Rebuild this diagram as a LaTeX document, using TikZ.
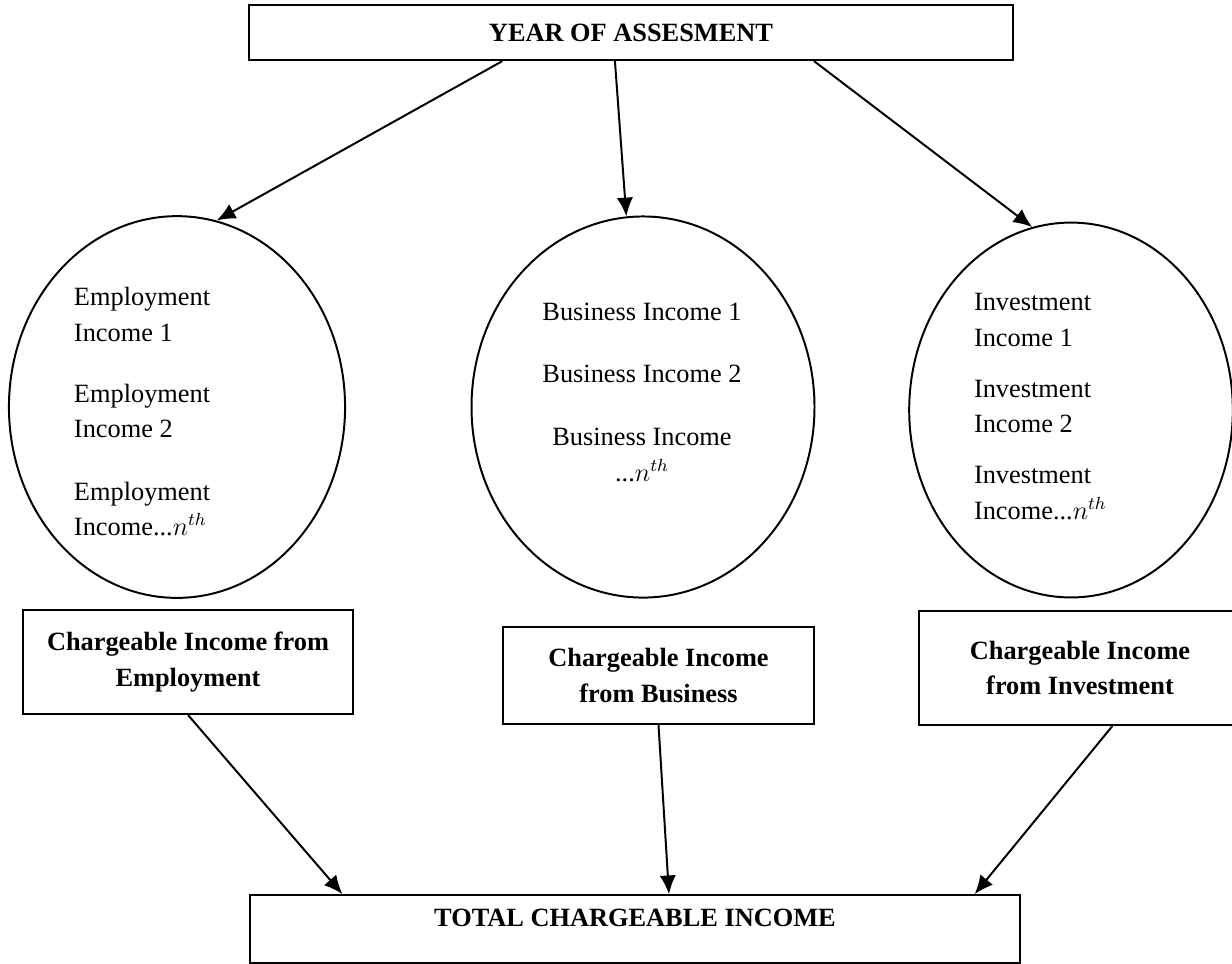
\documentclass[tikz,border=0pt]{standalone}
\usepackage{fontspec}
\setmainfont{Liberation Serif}
\usepackage{tikz}
\usetikzlibrary{calc, shapes.geometric}
\usetikzlibrary{arrows.meta}
\tikzset{>={Latex[width=2.6mm,length=3mm]}}
\tikzset{
  box/.style={draw=black, line width=1pt, inner sep=0pt, align=center,
    font=\fontsize{12pt}{16pt}\selectfont\bfseries},
  pool/.style={draw=black, line width=0.9pt, ellipse, inner sep=0pt},
  item/.style={inner sep=0pt, font=\fontsize{12pt}{14pt}\selectfont}
}

\begin{document}
\begin{tikzpicture}[x=0.016cm, y=-0.016cm, line width=0.9pt]
    \useasboundingbox (0,0) rectangle (1232,963);

    \node[box, minimum width=12.22cm, minimum height=0.88cm] (year) at (631,32.5) {YEAR OF ASSESMENT};

    \node[pool, minimum width=5.38cm, minimum height=6.11cm] (emp) at (177,407) {};
    \node[pool, minimum width=5.49cm, minimum height=6.10cm] (bus) at (643,407) {};
    \node[pool, minimum width=5.18cm, minimum height=6.00cm] (inv) at (1071,410) {};

    \node[item, anchor=base west] (emp-1a) at (73,305) {Employment};
    \node[item, anchor=base west] (emp-1b) at (73,341) {Income 1};
    \node[item, anchor=base west] (emp-2a) at (73,402) {Employment};
    \node[item, anchor=base west] (emp-2b) at (73,437) {Income 2};
    \node[item, anchor=base west] (emp-na) at (73,500) {Employment};
    \node[item, anchor=base west] (emp-nb) at (73,535) {Income...$n^{th}$};

    \node[item, anchor=base] (bus-1) at (642,320) {Business Income 1};
    \node[item, anchor=base] (bus-2) at (642,382) {Business Income 2};
    \node[item, anchor=base] (bus-na) at (642,445) {Business Income};
    \node[item, anchor=base] (bus-nb) at (642,481) {...$n^{th}$};

    \node[item, anchor=base west] (inv-1a) at (973,310) {Investment};
    \node[item, anchor=base west] (inv-1b) at (973,346) {Income 1};
    \node[item, anchor=base west] (inv-2a) at (973,397) {Investment};
    \node[item, anchor=base west] (inv-2b) at (973,432) {Income 2};
    \node[item, anchor=base west] (inv-na) at (973,483) {Investment};
    \node[item, anchor=base west] (inv-nb) at (973,519) {Income...$n^{th}$};

    \node[box, minimum width=5.28cm, minimum height=1.66cm] (chg-emp) at (188,662) {Chargeable Income from\\Employment};
    \node[box, minimum width=4.98cm, minimum height=1.55cm] (chg-bus) at (658.5,675.5) {Chargeable Income\\from Business};
    \node[box, minimum width=5.15cm, minimum height=1.82cm] (chg-inv) at (1080,668) {Chargeable Income\\from Investment};

    \node[box, minimum width=12.32cm, minimum height=1.08cm, text height=7pt, text depth=9pt] (total) at (635,929) {TOTAL CHARGEABLE INCOME};

    \draw[->] ($(year.south west)!0.332!(year.south east)$) -- (emp.78);
    \draw[->] ($(year.south west)!0.479!(year.south east)$) -- (bus.95);
    \draw[->] ($(year.south west)!0.739!(year.south east)$) -- (inv.102);

    \draw[->] (chg-emp.south) -- ($(total.north west)!0.121!(total.north east)$);
    \draw[->] (chg-bus.south) -- ($(total.north west)!0.544!(total.north east)$);
    \draw[->] ($(chg-inv.south west)!0.6!(chg-inv.south east)$) -- ($(total.north west)!0.94!(total.north east)$);

  \end{tikzpicture}
\end{document}
